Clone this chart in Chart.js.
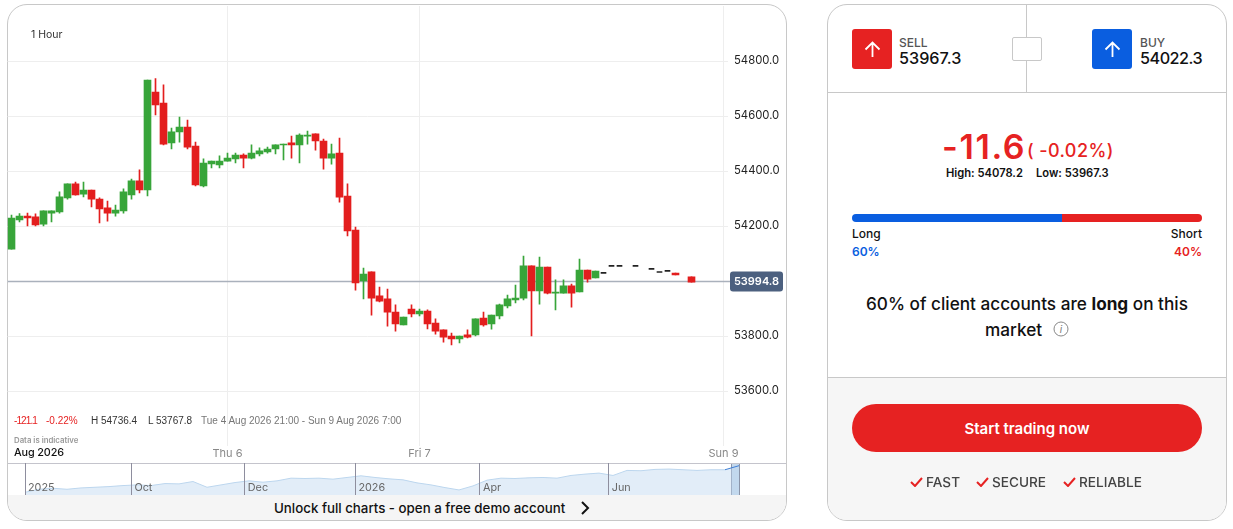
<!DOCTYPE html>
<html>
<head>
<meta charset="utf-8">
<script src="https://cdn.jsdelivr.net/npm/chart.js@4"></script>
<style>
  html, body { margin: 0; padding: 0; background: #fff; overflow: hidden; }
  body { width: 1233px; height: 529px; position: relative; font-family: Inter, sans-serif; color: #111; }
  .t { position: absolute; white-space: nowrap; line-height: 1; }
  .leg { font-family: "Liberation Sans", sans-serif; font-size: 10px; top: 416px; }
  .card { position: absolute; box-sizing: border-box; border: 1px solid #c8c8c8; border-radius: 20px; overflow: hidden; background: #fff; }
  #chartCard { left: 7px; top: 4px; width: 780px; height: 517px; }
  #sideCard { left: 827px; top: 4px; width: 400px; height: 517px; }
  #strip { position: absolute; left: 8px; top: 495px; width: 778px; height: 25px; background: #f5f5f5; border-radius: 0 0 19px 19px; }
  #navTop { position: absolute; left: 8px; top: 463px; width: 778px; height: 1px; background: #c4c4cc; }
  #navSel { position: absolute; left: 731px; top: 464px; width: 7px; height: 31px; background: #c5d9ec; border-left: 1px solid #8a94a8; border-right: 1px solid #8a94a8; }
  #mainChart { position: absolute; left: 0; top: 0; }
  #navChart { position: absolute; left: 15px; top: 463px; }
  .line { position: absolute; background: #c8c8c8; }
  .tile { position: absolute; top: 29px; width: 40px; height: 40px; border-radius: 3px; }
  #foot { position: absolute; left: 828px; top: 377px; width: 398px; height: 143px; background: #f6f6f6; border-top: 1px solid #c8c8c8; border-radius: 0 0 19px 19px; box-sizing: border-box; }
  #cta { position: absolute; left: 852px; top: 404px; width: 350px; height: 48px; border-radius: 24px; background: #e62222; color: #fff; font-weight: 600; font-size: 15px; text-align: center; line-height: 49px; }
</style>
</head>
<body>
<div class="card" id="chartCard"></div>
<div class="card" id="sideCard"></div>
<div id="strip"></div>
<div id="navTop"></div>
<div id="navSel"></div>
<canvas id="mainChart" width="786" height="464"></canvas>
<canvas id="navChart" width="730" height="32"></canvas>

<div class="t" style="left:31px;top:30px;font-size:10.5px;color:#333">1 Hour</div>
<div class="t leg" style="left:14px;color:#e62222;letter-spacing:-.9px">-121.1</div>
<div class="t leg" style="left:46px;color:#e62222">-0.22%</div>
<div class="t leg" style="left:91px;color:#333">H 54736.4</div>
<div class="t leg" style="left:148px;color:#333">L 53767.8</div>
<div class="t leg" style="left:201px;color:#777">Tue 4 Aug 2026 21:00 - Sun 9 Aug 2026 7:00</div>
<div class="t" style="left:14px;top:437px;font-size:7.8px;font-weight:600;color:#999">Data is indicative</div>
<div class="t" style="left:14px;top:448px;font-size:10.8px;font-weight:500;color:#111;letter-spacing:-.1px">Aug 2026</div>
<div class="t" style="left:274px;top:502px;font-size:13.3px;font-weight:500;color:#111">Unlock full charts - open a free demo account</div>
<svg style="position:absolute;left:580px;top:501px" width="11" height="14" viewBox="0 0 11 14"><path d="M2 1l6 6-6 6" fill="none" stroke="#111" stroke-width="2"/></svg>

<div class="line" style="left:828px;top:92px;width:398px;height:1px"></div>
<div class="line" style="left:1026px;top:5px;width:1px;height:87px"></div>
<div style="position:absolute;left:1012px;top:37px;width:28px;height:22px;background:#fff;border:1px solid #c8c8c8;border-radius:2px"></div>
<div class="tile" style="left:852px;background:#e62222"></div>
<div class="tile" style="left:1092px;background:#0a5ee0"></div>
<svg style="position:absolute;left:864px;top:41px" width="17" height="17" viewBox="0 0 17 17"><path d="M8.5 16V2M1.5 8.5l7-7 7 7" fill="none" stroke="#fff" stroke-width="1.8"/></svg>
<svg style="position:absolute;left:1104px;top:41px" width="17" height="17" viewBox="0 0 17 17"><path d="M8.5 16V2M1.5 8.5l7-7 7 7" fill="none" stroke="#fff" stroke-width="1.8"/></svg>
<div class="t" style="left:899px;top:37px;font-size:12px;font-weight:500;color:#555">SELL</div>
<div class="t" style="left:899px;top:50px;font-size:16.2px;font-weight:500">53967.3</div>
<div class="t" style="left:1140px;top:37px;font-size:12px;font-weight:500;color:#555">BUY</div>
<div class="t" style="left:1140px;top:50px;font-size:16.2px;font-weight:500;letter-spacing:-.5px">54022.3</div>

<div class="t" style="left:942px;top:130px;font-size:34px;font-weight:600;color:#e62222;letter-spacing:1.6px">-11.6</div>
<div class="t" style="left:1027px;top:142px;font-size:18px;font-weight:500;color:#e62222;letter-spacing:.4px">( -0.02%)</div>
<div class="t" style="left:946px;top:168px;font-size:11.2px;font-weight:600">High: 54078.2</div>
<div class="t" style="left:1036px;top:168px;font-size:11.2px;font-weight:600">Low: 53967.3</div>

<div style="position:absolute;left:852px;top:214px;width:210px;height:8px;background:#0a5ee0;border-radius:4px 0 0 4px"></div>
<div style="position:absolute;left:1062px;top:214px;width:140px;height:8px;background:#e62222;border-radius:0 4px 4px 0"></div>
<div class="t" style="left:852px;top:228px;font-size:12px;font-weight:500">Long</div>
<div class="t" style="left:852px;top:246px;font-size:12px;font-weight:600;color:#0a5ee0">60%</div>
<div class="t" style="right:31px;top:228px;font-size:12px;font-weight:500">Short</div>
<div class="t" style="right:31px;top:246px;font-size:12px;font-weight:600;color:#e62222">40%</div>

<div class="t" style="left:866px;top:295px;font-size:17.2px;font-weight:500">60% of client accounts are <b>long</b> on this</div>
<div class="t" style="left:985px;top:321px;font-size:17.2px;font-weight:500">market</div>
<svg style="position:absolute;left:1053px;top:321px" width="16" height="16" viewBox="0 0 16 16"><circle cx="8" cy="8" r="7" fill="none" stroke="#888" stroke-width="1"/><text x="8" y="12" font-size="10" font-style="italic" text-anchor="middle" fill="#777">i</text></svg>

<div id="foot"></div>
<div id="cta">Start trading now</div>
<svg style="position:absolute;left:910px;top:477px" width="13" height="10" viewBox="0 0 13 10"><path d="M1 5l4 4 7-8" fill="none" stroke="#e62222" stroke-width="2"/></svg>
<div class="t" style="left:926px;top:476px;font-size:13.6px;font-weight:500;color:#444">FAST</div>
<svg style="position:absolute;left:976px;top:477px" width="13" height="10" viewBox="0 0 13 10"><path d="M1 5l4 4 7-8" fill="none" stroke="#e62222" stroke-width="2"/></svg>
<div class="t" style="left:992px;top:476px;font-size:13.6px;font-weight:500;color:#444">SECURE</div>
<svg style="position:absolute;left:1063px;top:477px" width="13" height="10" viewBox="0 0 13 10"><path d="M1 5l4 4 7-8" fill="none" stroke="#e62222" stroke-width="2"/></svg>
<div class="t" style="left:1079px;top:476px;font-size:13.6px;font-weight:500;color:#444">RELIABLE</div>

<script>
// hourly slots, Tue 4 Aug 21:00 onwards
const categories = [
  '21:00','22:00','23:00',
  '00:00','01:00','02:00','03:00','04:00','05:00','06:00','07:00','08:00','09:00','10:00','11:00','12:00','13:00','14:00','15:00','16:00','17:00','18:00','19:00','20:00','21:00','22:00','23:00',
  '00:00','01:00','02:00','03:00','04:00','05:00','06:00','07:00','08:00','09:00','10:00','11:00','12:00','13:00','14:00','15:00','16:00','17:00','18:00','19:00','20:00','21:00','22:00','23:00',
  '00:00','01:00','02:00','03:00','04:00','05:00','06:00','07:00','08:00','09:00','10:00','11:00','12:00','13:00','14:00','15:00','16:00','17:00','18:00','19:00','20:00','21:00','22:00',
  '23:00','00:00','01:00','02:00','03:00','04:00','05:00','06:00','07:00','08:00','09:00','10:00','11:00','12:00','13:00','00:00'
];
const opens = [54116,54222,54236,54233,54207,54247,54251,54302,54353,54316,54331,54298,54266,54247,54255,54313,54364,54331,54687,54647,54502,54542,54560,54491,54346,54426,54422,54436,54444,54458,54447,54462,54469,54480,54495,54502,54495,54527,54535,54509,54447,54465,54309,54185,54000,54033,53946,53935,53887,53840,53898,53880,53891,53847,53822,53800,53789,53804,53804,53865,53844,53873,53909,53931,53938,54055,53964,54051,53956,53956,53982,53960,54040,54011,54028,54053,54053,null,54053,null,54042,54031,54035,54029,null,54015,null,null,null,null];
const highs = [54240,54245,54247,54244,54255,54255,54324,54353,54360,54360,54331,54302,54291,54276,54335,54371,54404,54731,54736,54713,54556,54596,54585,54505,54444,54436,54455,54465,54465,54462,54495,54484,54487,54495,54498,54527,54535,54545,54535,54516,54498,54520,54353,54196,54047,54033,53978,53971,53913,53869,53913,53898,53895,53862,53822,53811,53800,53822,53862,53887,53876,53916,53949,53985,54091,54055,54087,54051,54004,54004,53989,54080,54040,54036,54028,54053,54053,null,54053,null,54042,54031,54035,54029,null,54015,null,null,null,null];
const lows = [54116,54215,54200,54200,54200,54215,54247,54298,54312,54306,54269,54211,54218,54236,54247,54298,54320,54309,54604,54495,54480,54505,54480,54346,54342,54411,54411,54436,54429,54411,54444,54455,54465,54462,54440,54447,54429,54498,54476,54407,54425,54287,54164,53967,53935,53876,53924,53836,53818,53840,53869,53873,53826,53807,53778,53768,53775,53793,53800,53836,53825,53862,53902,53920,53931,53800,53916,53953,53895,53956,53905,53960,53996,54011,54028,54053,54053,null,54053,null,54042,54031,54035,54022,null,53996,null,null,null,null];
const closes = [54229,54236,54229,54204,54255,54255,54306,54353,54313,54331,54298,54262,54247,54258,54324,54364,54331,54731,54640,54498,54542,54560,54487,54349,54429,54436,54436,54447,54458,54447,54465,54473,54480,54495,54498,54495,54531,54531,54509,54447,54462,54305,54182,53993,54025,53938,53927,53887,53844,53869,53880,53891,53844,53818,53796,53789,53800,53796,53862,53840,53876,53913,53935,53938,54055,53964,54051,53956,53960,53982,53956,54040,54007,54036,54028,54053,54053,null,54053,null,54042,54031,54035,54022,null,53996,null,null,null,null];
const tickIndexes = [27, 51, 89];
const tickLabels = ['Thu 6', 'Fri 7', 'Sun 9'];
const currentPrice = 53994.8;

// navigator strip along the bottom
const navValues = [35000,37250,38000,37250,38250,38750,39250,40000,40500,40000,41500,41250,43000,38750,40500,42250,43500,42500,43500,45500,45250,45500,44750,46000,47250,46000,45000,44250,42000,40500,38500,36750,39750,44000,45500,45250,45750,46000,45500,47500,48500,49250,47500,51250,51000,52000,52250,51750,51250,51750,51750,54750];
const navTickValues = [0, 7.6, 15.7, 23.6, 32.5, 41.7];
const navTickLabels = ['2025', 'Oct', 'Dec', '2026', 'Apr', 'Jun'];

Chart.defaults.font.family = 'Inter, sans-serif';
Chart.defaults.animation = false;

const GREEN = '#38a53a';
const RED = '#e31e1e';
const candleColor = (i) => closes[i] > opens[i] ? GREEN : RED;

// flat candles get their own thinner bar so they show as dashes
const isDash = (i) => opens[i] !== null && opens[i] === closes[i];
const wickData = categories.map((_, i) => highs[i] === null || isDash(i) ? null : [lows[i], highs[i]]);
const bodyData = categories.map((_, i) => opens[i] === null || isDash(i) ? null : [opens[i], closes[i]]);
const dashData = categories.map((_, i) => isDash(i) ? [opens[i], closes[i]] : null);

const priceLine = {
  id: 'priceLine',
  beforeDatasetsDraw(chart) {
    const { ctx, chartArea, scales } = chart;
    const y = Math.round(scales.y.getPixelForValue(currentPrice)) - 0.5;
    ctx.save();
    ctx.strokeStyle = '#aab1bc';
    ctx.lineWidth = 1.5;
    ctx.beginPath();
    ctx.moveTo(chartArea.left, y);
    ctx.lineTo(732, y);
    ctx.stroke();
    ctx.restore();
  },
  afterDraw(chart) {
    const { ctx, scales } = chart;
    const y = Math.round(scales.y.getPixelForValue(currentPrice)) - 0.5;
    ctx.save();
    ctx.fillStyle = '#4c607f';
    ctx.beginPath();
    ctx.roundRect(730, y - 10, 53, 20, 3);
    ctx.fill();
    ctx.fillStyle = '#fff';
    ctx.font = '600 11px Inter, sans-serif';
    ctx.textAlign = 'center';
    ctx.textBaseline = 'middle';
    ctx.fillText(currentPrice.toFixed(1), 756.5, y + 0.5);
    ctx.restore();
  }
};

new Chart(document.getElementById('mainChart'), {
  type: 'bar',
  data: {
    labels: categories,
    datasets: [
      { data: wickData, barThickness: 1, grouped: false, backgroundColor: (c) => candleColor(c.dataIndex) },
      { data: bodyData, barThickness: 7, grouped: false, backgroundColor: (c) => candleColor(c.dataIndex) },
      { data: dashData, barThickness: 5, grouped: false, minBarLength: 1, backgroundColor: '#222' }
    ]
  },
  options: {
    responsive: false,
    layout: { padding: { left: 7.5, top: 6, right: 0, bottom: 0 } },
    plugins: { legend: { display: false }, tooltip: { enabled: false } },
    events: [],
    scales: {
      x: {
        offset: true,
        afterFit: (s) => { s.height = 18; s.paddingLeft = 0; s.paddingRight = 0; },
        grid: { offset: false, color: '#eeeeee', drawTicks: false },
        border: { display: false },
        ticks: {
          autoSkip: false,
          maxRotation: 0,
          padding: 1,
          color: '#888',
          font: { size: 11 },
          callback: (v, i) => {
            const k = tickIndexes.indexOf(i);
            return k < 0 ? null : tickLabels[k];
          }
        }
      },
      y: {
        position: 'right',
        min: 53400,
        max: 55000,
        afterFit: (s) => { s.width = 58.5; s.paddingTop = 0; s.paddingBottom = 0; },
        grid: { color: '#eeeeee', drawTicks: false },
        border: { display: false },
        ticks: {
          stepSize: 200,
          padding: 6.5,
          color: '#222',
          font: { size: 11.3 },
          callback: (v) => (v <= 53400 || v >= 55000) ? null : v.toFixed(1)
        }
      }
    }
  },
  plugins: [priceLine]
});

const navLabels = {
  id: 'navLabels',
  afterDraw(chart) {
    const { ctx, scales } = chart;
    ctx.save();
    ctx.fillStyle = '#666';
    ctx.font = '10.8px Inter, sans-serif';
    ctx.textBaseline = 'alphabetic';
    navTickValues.forEach((v, i) => {
      ctx.fillText(navTickLabels[i], scales.x.getPixelForValue(v) + 3, 28);
    });
    ctx.restore();
  }
};

new Chart(document.getElementById('navChart'), {
  type: 'line',
  data: {
    labels: navValues.map((_, i) => i),
    datasets: [{
      parsing: false,
      data: navValues.map((v, i) => ({ x: i, y: v })),
      borderColor: '#bcd6ee',
      borderWidth: 1,
      backgroundColor: 'rgba(190,215,240,0.45)',
      fill: 'start',
      pointRadius: 0,
      segment: { borderColor: (c) => c.p1DataIndex === navValues.length - 1 ? '#3f7fd6' : undefined }
    }]
  },
  options: {
    responsive: false,
    layout: { padding: { left: 10, right: 6, top: 0, bottom: 0 } },
    plugins: { legend: { display: false }, tooltip: { enabled: false } },
    events: [],
    scales: {
      x: {
        type: 'linear',
        min: 0,
        max: navValues.length - 1,
        afterBuildTicks: (s) => { s.ticks = navTickValues.map((v) => ({ value: v })); },
        grid: { color: '#8e8e9e', z: 1, drawTicks: false },
        border: { display: false },
        ticks: { display: false }
      },
      y: { display: false, min: 33000, max: 56750 }
    }
  },
  plugins: [navLabels]
});
</script>
</body>
</html>
